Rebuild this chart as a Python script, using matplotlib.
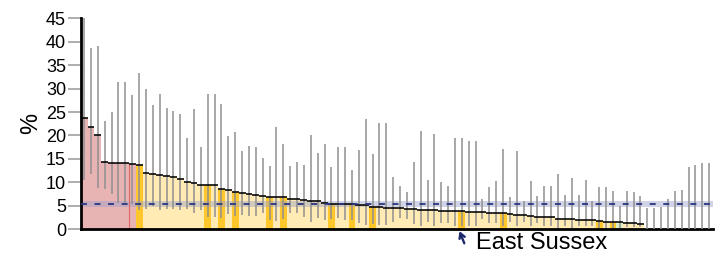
import numpy as np
import matplotlib.pyplot as plt

plt.rcParams['font.family'] = ['Liberation Sans', 'DejaVu Sans']

# Percentages by area, sorted high to low (last ten have no rate shown)
rates = [23.8, 21.9, 20.0, 14.4, 14.2, 14.2, 14.2, 13.9, 13.6, 11.9,
         11.7, 11.5, 11.4, 11.1, 10.7, 10.1, 9.9, 9.5, 9.5, 9.5,
         8.6, 8.4, 7.9, 7.8, 7.5, 7.3, 7.0, 6.9, 6.9, 6.8,
         6.5, 6.4, 6.2, 6.0, 6.0, 5.5, 5.4, 5.4, 5.3, 5.3,
         5.2, 5.1, 4.8, 4.7, 4.6, 4.6, 4.5, 4.3, 4.3, 4.2,
         4.05, 4.0, 3.95, 3.9, 3.85, 3.8, 3.7, 3.65, 3.6, 3.55,
         3.5, 3.4, 3.3, 3.1, 3.0, 2.85, 2.7, 2.6, 2.55, 2.2,
         2.15, 2.1, 2.05, 2.0, 1.9, 1.7, 1.65, 1.5, 1.5, 1.4,
         1.35, 1.1, 0, 0, 0, 0, 0, 0, 0, 0,
         0, 0]

lower_ci = [10.5, 11.8, 8.7, 8.5, 7.6, 5.5, 5.5, 5.3, 4.0, 4.3,
            5.0, 4.0, 4.3, 4.3, 4.1, 4.4, 3.4, 4.1, 2.7, 2.6,
            2.3, 3.2, 2.9, 3.1, 2.8, 2.8, 3.4, 2.0, 1.8, 2.1,
            3.4, 3.4, 2.7, 1.6, 2.3, 2.0, 2.1, 2.3, 2.0, 2.0,
            1.4, 0.9, 1.2, 0.8, 0.8, 1.6, 2.3, 2.2, 1.1, 0.6,
            1.6, 0.6, 1.4, 1.4, 0.7, 0.7, 0.6, 0.6, 2.1, 1.3,
            1.3, 0.6, 1.6, 0.6, 1.6, 0.7, 1.3, 0.6, 0.6, 0.2,
            0.7, 0.2, 0.7, 0.7, 0.7, 0.2, 0.2, 0.2, 0.2, 0.4,
            0.4, 0.4, 0, 0, 0, 0, 0, 0, 0, 0,
            0, 0]

upper_ci = [47.0, 38.7, 39.1, 23.1, 24.9, 31.5, 31.5, 28.6, 33.3, 29.9,
            26.5, 28.9, 25.8, 25.2, 24.6, 19.4, 25.6, 17.6, 28.9, 28.9,
            26.7, 19.9, 20.7, 16.7, 17.8, 17.5, 15.1, 13.5, 21.9, 18.2,
            13.5, 14.4, 13.7, 20.1, 16.2, 18.2, 13.2, 17.6, 17.6, 12.6,
            16.8, 23.5, 16.1, 22.6, 22.6, 11.2, 9.3, 7.9, 14.4, 21.0,
            10.5, 20.3, 10.0, 9.3, 19.5, 19.5, 18.8, 18.8, 6.5, 9.0,
            10.2, 17.1, 6.8, 16.6, 6.0, 10.2, 7.0, 9.3, 9.2, 11.7,
            7.3, 11.0, 7.3, 10.4, 6.0, 9.1, 9.1, 8.2, 5.0, 8.2,
            7.9, 7.0, 4.6, 4.6, 4.8, 6.4, 8.2, 8.3, 13.2, 13.7,
            14.2, 14.2]

# bar numbers (1-based) by group
higher_bars = [1, 2, 3, 4, 5, 6, 7, 8]
neighbour_bars = [9, 19, 21, 23, 28, 30, 37, 40, 43, 56, 62, 76, 78]
lower_bars = [79]
label_bar = 56
label_text = 'East Sussex'

england = 5.4
england_low = 4.85
england_high = 5.95

n = len(rates)
x = np.arange(n)

colors = []
for i in range(n):
    num = i + 1
    if num in higher_bars:
        colors.append('#e8b3b3')
    elif num in neighbour_bars:
        colors.append('#ffc72c')
    elif num in lower_bars:
        colors.append('#dcefc9')
    else:
        colors.append('#ffebb3')

fig = plt.figure(figsize=(7.23, 2.57), dpi=100)
ax = fig.add_axes([0.1116, 0.108, 0.874, 0.821])

ax.bar(x, rates, width=1.0, color=colors, linewidth=0, zorder=1)
ax.axhspan(england_low, england_high, color='#9aa0c8', alpha=0.45, lw=0, zorder=2)
ax.vlines(x, lower_ci, upper_ci, color='#8f8f8f', lw=1.1, zorder=3)

shown = [i for i in range(n) if rates[i] > 0]
ax.hlines([rates[i] for i in shown], x[shown] - 0.5, x[shown] + 0.5,
          color='black', lw=1.15, zorder=4)

# thin red divider inside the pink group
edge = higher_bars[-1] - 1
ax.vlines(edge - 0.5, 0, rates[edge], color='#e06868', lw=0.8, zorder=2)

ax.axhline(england, color='#2b3580', lw=1.3, dashes=(3.3, 4.2), zorder=5)

ax.set_xlim(-0.5, n - 0.5)
ax.set_ylim(0, 45)
ax.set_yticks(np.arange(0, 46, 5))
ax.set_xticks([])
ax.tick_params(axis='y', length=9.5, width=1.2, color='#a0a0a0', labelsize=13, pad=1)
for side in ['top', 'right']:
    ax.spines[side].set_visible(False)
for side in ['left', 'bottom']:
    ax.spines[side].set_linewidth(2)
    ax.spines[side].set_color('black')
ax.set_ylabel('%', fontsize=17, labelpad=3)

lb = label_bar - 1
ax.annotate('', xy=(lb - 0.35, -0.4), xytext=(lb + 0.35, -3.0),
            arrowprops=dict(arrowstyle='->,head_length=0.35,head_width=0.2',
                            color='#1f2a6b', lw=1.7, shrinkA=0, shrinkB=0),
            annotation_clip=False)
ax.text(lb + 2.0, -2.9, label_text, fontsize=17, ha='left', va='center', clip_on=False)

fig.savefig('out.png', dpi=100)
